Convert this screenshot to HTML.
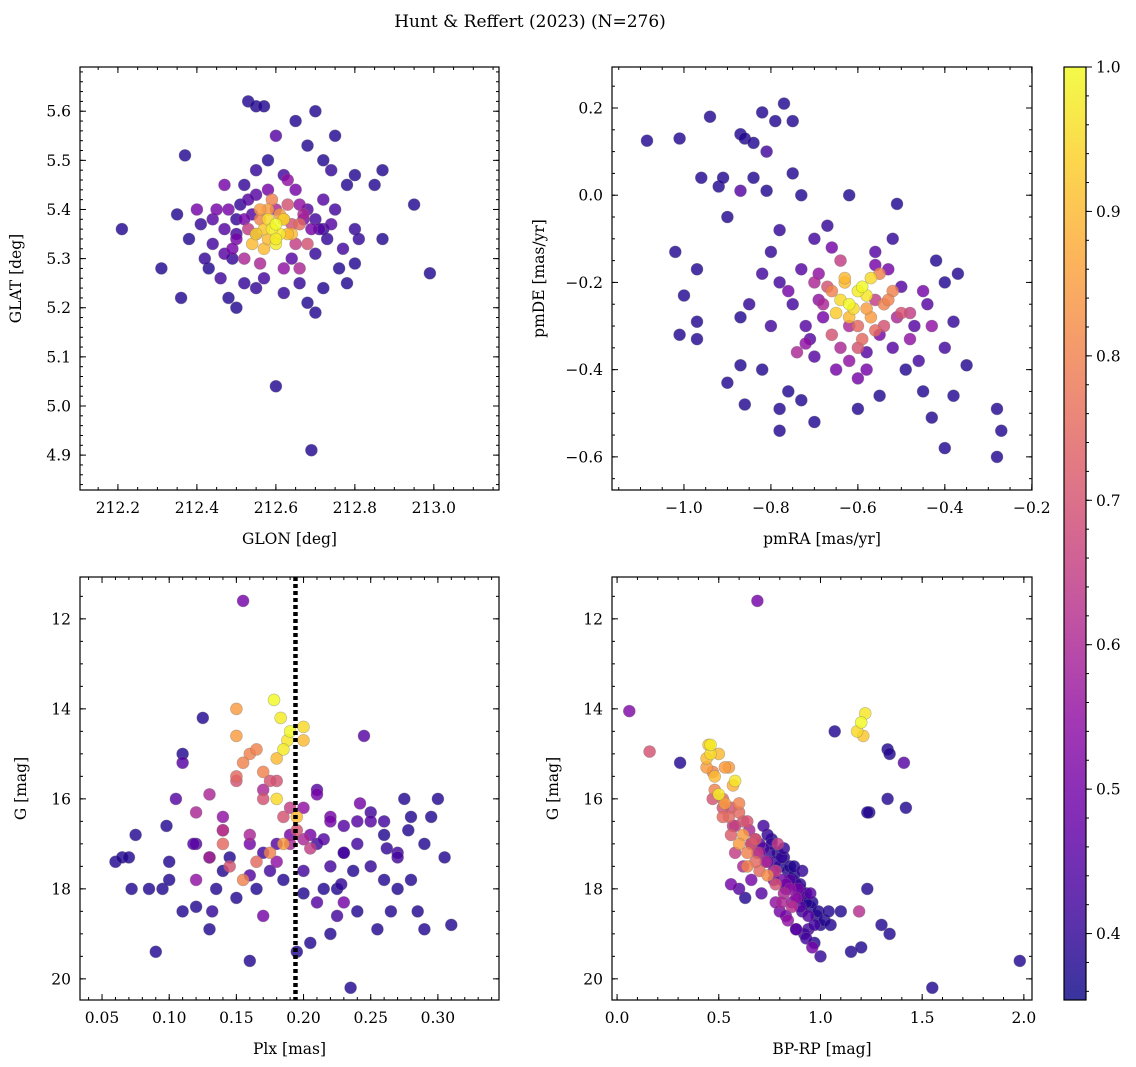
<!DOCTYPE html>
<html><head><meta charset="utf-8"><style>
body{margin:0;background:#fff;}
svg{display:block;font-family:"DejaVu Serif","Liberation Serif",serif;}
</style></head><body>
<svg id="fig" width="1136" height="1067" viewBox="0 0 1136 1067">
<text x="530" y="27" text-anchor="middle" font-size="17">Hunt &amp; Reffert (2023) (N=276)</text>
</svg>
<script>
// ---------- data ----------
const skyGlon=[212.21,212.31,212.36,212.37,212.35,212.38,212.41,212.43,212.44,212.45,212.47,212.48,212.50,212.49,212.50,212.53,212.55,212.57,212.52,212.55,212.58,212.60,212.65,212.68,212.70,212.72,212.75,212.74,212.78,212.80,212.85,212.87,212.95,212.99,212.87,212.80,212.80,212.78,212.76,212.72,212.68,212.70,212.66,212.62,212.60,212.69,212.55,212.52,212.57,212.64,212.70,212.73,212.75,212.72,212.68,212.65,212.62,212.55,212.52,212.50,212.46,212.42,212.44,212.40,212.47,212.53,212.58,212.63,212.67,212.71,212.77,212.81,212.49,212.56,212.66,212.74,212.60,212.55,212.65,212.62,212.48,212.68,212.52,212.58,212.62,212.56,212.66,212.60,212.64,212.54,212.57,212.63,212.60,212.59,212.61,212.58,212.62,212.55,212.60,212.57,212.51,212.54,212.59,212.63,212.67,212.69,212.56,212.53,212.61,212.64,212.70,212.58,212.66,212.50,212.47,212.72];
const skyGlat=[5.36,5.28,5.22,5.51,5.39,5.34,5.37,5.28,5.33,5.40,5.36,5.22,5.20,5.30,5.35,5.62,5.61,5.61,5.45,5.48,5.50,5.55,5.58,5.53,5.60,5.50,5.55,5.48,5.45,5.47,5.45,5.48,5.41,5.27,5.34,5.36,5.29,5.25,5.28,5.24,5.21,5.19,5.25,5.23,5.04,4.91,5.24,5.25,5.26,5.30,5.31,5.34,5.40,5.42,5.40,5.44,5.47,5.43,5.38,5.34,5.26,5.30,5.38,5.40,5.45,5.42,5.44,5.46,5.38,5.36,5.32,5.34,5.32,5.29,5.28,5.37,5.40,5.35,5.33,5.28,5.40,5.33,5.30,5.40,5.38,5.38,5.37,5.33,5.35,5.33,5.32,5.35,5.37,5.36,5.35,5.38,5.38,5.35,5.34,5.36,5.41,5.39,5.42,5.41,5.39,5.36,5.40,5.36,5.39,5.37,5.38,5.34,5.41,5.38,5.31,5.36];
const skyProb=[0.38,0.38,0.38,0.38,0.38,0.38,0.4,0.38,0.42,0.5,0.45,0.38,0.38,0.4,0.42,0.38,0.38,0.38,0.4,0.4,0.38,0.45,0.38,0.38,0.38,0.38,0.38,0.4,0.38,0.38,0.38,0.38,0.38,0.38,0.38,0.4,0.38,0.38,0.38,0.38,0.38,0.38,0.4,0.4,0.38,0.38,0.4,0.4,0.42,0.45,0.4,0.4,0.42,0.45,0.45,0.5,0.42,0.45,0.5,0.5,0.42,0.4,0.45,0.5,0.5,0.45,0.5,0.55,0.5,0.45,0.42,0.4,0.5,0.6,0.6,0.45,0.6,0.6,0.65,0.55,0.5,0.7,0.6,0.85,0.75,0.8,0.75,0.98,0.9,0.9,0.9,0.9,1.0,0.98,0.97,0.95,0.95,0.95,0.98,0.92,0.4,0.45,0.8,0.7,0.6,0.5,0.85,0.65,0.85,0.7,0.42,0.9,0.55,0.4,0.45,0.4];

const pmRA=[-1.085,-1.01,-0.94,-0.96,-0.92,-0.91,-0.87,-0.86,-0.84,-0.82,-0.81,-0.79,-0.77,-0.75,-0.84,-0.87,-0.90,-0.81,-0.75,-0.73,-0.62,-0.51,-1.02,-1.00,-0.97,-1.01,-0.97,-0.97,-0.90,-0.87,-0.86,-0.87,-0.82,-0.78,-0.78,-0.76,-0.70,-0.73,-0.60,-0.55,-0.49,-0.45,-0.43,-0.40,-0.38,-0.28,-0.27,-0.28,-0.35,-0.38,-0.37,-0.40,-0.42,-0.40,-0.44,-0.47,-0.50,-0.52,-0.56,-0.58,-0.65,-0.70,-0.72,-0.75,-0.78,-0.80,-0.78,-0.70,-0.67,-0.73,-0.68,-0.55,-0.52,-0.46,-0.85,-0.80,-0.60,-0.62,-0.58,-0.82,-0.76,-0.74,-0.45,-0.43,-0.48,-0.53,-0.66,-0.69,-0.64,-0.56,-0.50,-0.54,-0.72,-0.66,-0.68,-0.55,-0.57,-0.60,-0.52,-0.70,-0.58,-0.64,-0.56,-0.60,-0.54,-0.66,-0.62,-0.61,-0.63,-0.60,-0.64,-0.59,-0.62,-0.58,-0.65,-0.57,-0.67,-0.53,-0.59,-0.69,-0.51,-0.63,-0.71,-0.48,-0.62,-0.56];
const pmDE=[0.125,0.13,0.18,0.04,0.02,0.04,0.14,0.13,0.12,0.19,0.10,0.17,0.21,0.17,0.04,0.01,-0.05,0.01,0.05,0.00,0.00,-0.02,-0.13,-0.23,-0.17,-0.32,-0.29,-0.33,-0.43,-0.39,-0.48,-0.28,-0.40,-0.49,-0.54,-0.45,-0.52,-0.47,-0.49,-0.46,-0.40,-0.45,-0.51,-0.58,-0.46,-0.49,-0.54,-0.60,-0.39,-0.29,-0.18,-0.20,-0.15,-0.35,-0.25,-0.30,-0.21,-0.10,-0.13,-0.36,-0.40,-0.37,-0.30,-0.25,-0.20,-0.13,-0.08,-0.10,-0.07,-0.17,-0.28,-0.32,-0.35,-0.38,-0.25,-0.30,-0.42,-0.38,-0.40,-0.18,-0.22,-0.36,-0.22,-0.30,-0.33,-0.17,-0.12,-0.18,-0.35,-0.24,-0.27,-0.30,-0.34,-0.32,-0.25,-0.18,-0.28,-0.30,-0.22,-0.20,-0.26,-0.15,-0.31,-0.35,-0.25,-0.22,-0.28,-0.26,-0.20,-0.22,-0.24,-0.21,-0.25,-0.23,-0.27,-0.19,-0.21,-0.24,-0.33,-0.24,-0.28,-0.19,-0.33,-0.27,-0.30,-0.16];
const pmProb=[0.38,0.38,0.38,0.38,0.38,0.38,0.38,0.38,0.38,0.38,0.42,0.38,0.38,0.38,0.38,0.45,0.38,0.38,0.38,0.38,0.38,0.38,0.38,0.38,0.38,0.38,0.38,0.38,0.38,0.38,0.38,0.38,0.38,0.38,0.38,0.38,0.38,0.38,0.38,0.38,0.38,0.38,0.38,0.38,0.38,0.38,0.38,0.38,0.38,0.4,0.38,0.38,0.38,0.42,0.45,0.45,0.45,0.4,0.45,0.45,0.5,0.45,0.45,0.42,0.42,0.4,0.4,0.42,0.4,0.45,0.5,0.5,0.45,0.42,0.4,0.42,0.5,0.55,0.5,0.42,0.5,0.6,0.5,0.55,0.55,0.5,0.5,0.55,0.6,0.65,0.7,0.7,0.55,0.7,0.6,0.8,0.85,0.75,0.8,0.6,0.85,0.65,0.75,0.7,0.8,0.8,0.9,0.95,0.9,0.98,0.95,1.0,1.0,0.97,0.93,0.95,0.7,0.8,0.75,0.55,0.6,0.9,0.45,0.65,0.6,0.5];

const plx=[0.06,0.065,0.07,0.072,0.075,0.085,0.09,0.095,0.10,0.10,0.105,0.11,0.11,0.12,0.12,0.125,0.13,0.13,0.135,0.14,0.14,0.145,0.15,0.155,0.16,0.16,0.165,0.17,0.17,0.175,0.18,0.185,0.19,0.195,0.20,0.20,0.205,0.21,0.21,0.215,0.22,0.22,0.225,0.23,0.23,0.235,0.24,0.24,0.245,0.25,0.25,0.255,0.26,0.26,0.265,0.27,0.27,0.275,0.28,0.28,0.285,0.29,0.29,0.295,0.30,0.305,0.31,0.237,0.16,0.14,0.12,0.11,0.13,0.15,0.17,0.18,0.19,0.20,0.21,0.22,0.23,0.24,0.25,0.26,0.27,0.18,0.2,0.22,0.16,0.17,0.19,0.21,0.23,0.15,0.14,0.13,0.12,0.145,0.155,0.165,0.175,0.185,0.195,0.205,0.15,0.15,0.16,0.17,0.18,0.18,0.185,0.19,0.2,0.2,0.14,0.155,0.165,0.175,0.195,0.185,0.178,0.183,0.188,0.215,0.228,0.242,0.262,0.278,0.118,0.098,0.132,0.205,0.225];
const plxG=[17.4,17.3,17.3,18.0,16.8,18.0,19.4,18.0,17.4,17.8,16.0,18.5,15.0,17.0,18.4,14.2,17.3,18.9,18.0,16.7,17.6,17.3,18.2,11.6,19.6,17.0,18.0,17.2,18.6,17.6,17.0,17.8,16.8,19.4,18.1,17.6,16.8,18.3,17.0,18.0,17.5,19.0,18.0,17.2,18.3,20.2,17.0,18.5,14.6,17.5,16.5,18.9,17.8,16.8,18.5,17.2,18.0,16.0,17.8,16.4,18.5,17.0,18.9,16.4,16.0,17.3,18.8,17.6,17.7,16.4,16.3,15.2,15.9,15.6,15.8,15.6,16.2,16.9,15.9,16.4,16.6,16.5,16.3,16.5,17.3,17.4,16.2,16.5,16.8,16.0,17.0,15.8,17.2,15.5,16.7,17.3,17.8,17.5,17.8,17.4,17.2,17.0,16.7,17.1,14.0,14.6,15.0,15.4,16.0,15.1,14.9,14.5,14.4,14.7,17.0,15.2,14.9,15.6,16.4,16.4,13.8,14.2,14.7,16.9,17.9,16.1,17.1,16.7,17.0,16.6,18.5,19.2,18.6];
const plxProb=[0.38,0.38,0.38,0.38,0.38,0.38,0.38,0.38,0.38,0.38,0.45,0.38,0.38,0.45,0.38,0.38,0.4,0.38,0.38,0.5,0.38,0.38,0.38,0.5,0.38,0.5,0.38,0.42,0.5,0.42,0.45,0.38,0.5,0.38,0.38,0.42,0.5,0.45,0.42,0.38,0.42,0.38,0.38,0.42,0.5,0.38,0.42,0.38,0.45,0.4,0.45,0.38,0.38,0.38,0.38,0.42,0.38,0.38,0.38,0.38,0.38,0.38,0.38,0.38,0.38,0.38,0.38,0.38,0.45,0.55,0.6,0.45,0.6,0.7,0.6,0.7,0.65,0.6,0.5,0.5,0.45,0.45,0.42,0.42,0.42,0.55,0.55,0.5,0.6,0.7,0.6,0.45,0.42,0.75,0.65,0.6,0.55,0.7,0.8,0.75,0.8,0.85,0.7,0.65,0.85,0.85,0.8,0.8,0.95,0.9,0.98,1.0,0.95,0.9,0.75,0.8,0.8,0.7,0.9,0.7,1.0,0.98,0.97,0.45,0.4,0.5,0.4,0.38,0.45,0.38,0.4,0.38,0.42];

const bprp=[0.06,0.16,0.31,0.69,1.07,1.33,1.34,1.41,1.42,1.24,1.23,1.19,1.20,1.22,1.18,1.21,0.46,0.50,0.55,0.58,0.48,0.52,0.56,0.44,0.47,0.53,0.60,0.62,0.57,0.65,0.68,0.70,0.72,0.75,0.78,0.80,0.84,0.86,0.88,0.90,0.92,0.95,0.98,1.00,0.72,0.74,0.76,0.79,0.82,0.85,0.87,0.90,0.93,0.96,0.99,1.02,0.66,0.69,0.73,0.77,0.81,0.83,0.89,0.91,0.94,0.97,1.05,1.10,1.15,1.20,1.30,1.34,1.23,1.33,1.55,1.98,0.56,0.60,0.63,0.80,0.84,0.88,0.92,0.96,1.00,1.04,0.64,0.70,0.74,0.78,0.82,0.86,0.52,0.55,0.58,0.62,0.66,0.70,0.74,0.78,0.83,0.88,0.94,0.60,0.64,0.68,0.85,0.90,0.79,0.77,0.81,0.86,0.50,0.48,0.46,0.53,0.57,0.60,0.64,0.68,0.45,0.44,0.47,0.52,0.56,0.58,0.62,0.66,0.71,0.78,0.83,0.88,0.93,0.76,0.81,0.85,0.89,0.93,0.97,0.82,0.87,0.91,0.95];
const cmdG=[14.05,14.95,15.2,11.6,14.5,14.9,15.0,15.2,16.2,16.3,18.0,18.5,14.3,14.1,14.5,14.6,14.8,15.0,15.3,15.6,15.8,16.0,16.2,15.1,15.4,16.1,16.3,16.5,16.6,16.7,16.9,17.0,17.1,17.2,17.4,17.5,17.6,17.8,17.9,18.0,18.2,18.4,18.6,18.8,16.6,16.8,17.0,17.2,17.3,17.5,17.7,17.9,18.1,18.3,18.5,18.7,17.0,17.2,17.4,17.6,17.8,18.0,18.2,18.5,18.9,19.2,18.8,18.5,19.4,19.3,18.8,19.0,16.3,16.0,20.2,19.6,17.9,18.0,18.2,18.5,18.7,18.9,19.0,19.3,19.5,18.5,17.5,17.6,17.7,17.9,18.1,18.3,16.2,16.4,16.6,16.8,17.0,17.2,17.4,17.6,17.9,18.2,18.6,17.0,17.2,17.4,18.0,18.4,17.0,17.8,18.3,18.4,15.9,15.5,15.0,15.3,15.7,16.1,16.5,16.9,14.8,15.3,16.0,16.4,16.8,17.2,17.5,17.8,18.1,18.3,18.6,18.9,19.1,16.9,17.3,17.8,18.0,18.3,18.8,17.1,17.5,17.6,18.1];
const cmdProb=[0.52,0.7,0.38,0.5,0.38,0.38,0.38,0.45,0.38,0.38,0.38,0.62,1.0,0.97,0.95,0.92,0.98,0.9,0.85,0.97,0.8,0.75,0.7,0.9,0.8,0.85,0.75,0.7,0.65,0.6,0.5,0.45,0.42,0.4,0.4,0.38,0.38,0.38,0.38,0.38,0.38,0.38,0.38,0.38,0.42,0.4,0.4,0.38,0.38,0.38,0.38,0.4,0.42,0.38,0.38,0.38,0.7,0.65,0.6,0.5,0.5,0.45,0.45,0.42,0.42,0.38,0.38,0.38,0.38,0.38,0.38,0.38,0.38,0.38,0.38,0.38,0.5,0.45,0.38,0.5,0.55,0.45,0.42,0.5,0.4,0.38,0.8,0.75,0.82,0.7,0.6,0.55,0.7,0.75,0.65,0.85,0.6,0.55,0.5,0.65,0.5,0.55,0.45,0.85,0.8,0.75,0.55,0.45,0.65,0.5,0.6,0.62,0.98,0.9,0.95,0.85,0.88,0.8,0.7,0.72,0.92,0.85,0.7,0.75,0.72,0.65,0.6,0.5,0.45,0.55,0.5,0.45,0.42,0.38,0.4,0.45,0.5,0.38,0.42,0.4,0.38,0.4,0.45];

const cbTicks=[0.4,0.5,0.6,0.7,0.8,0.9,1.0];
const VMIN=0.354, VMAX=1.0;

// ---------- helpers ----------
const NS='http://www.w3.org/2000/svg';
const fig=document.getElementById('fig');
function mk(tag,attrs,parent){const e=document.createElementNS(NS,tag);for(const k in attrs)e.setAttribute(k,attrs[k]);(parent||fig).appendChild(e);return e;}
const stops=['#0d0887','#41049d','#6a00a8','#8f0da4','#b12a90','#cc4778','#e16462','#f2844b','#fca636','#fcce25','#f0f921'];
function hex(h){return [1,3,5].map(i=>parseInt(h.substr(i,2),16));}
function cmap(v){let t=(v-VMIN)/(VMAX-VMIN);t=Math.max(0,Math.min(1,t));const s=t*10,i=Math.min(9,Math.floor(s)),f=s-i;const a=hex(stops[i]),b=hex(stops[i+1]);return 'rgb('+a.map((c,k)=>Math.round(c+(b[k]-c)*f)).join(',')+')';}
function fmt(v,d){const s=Math.abs(v).toFixed(d);return (v<-1e-9?'\u2212':'')+s;}

function panel(o){
  const g=mk('g',{});
  
  
  const X=v=>o.x0+(v-o.xmin)/(o.xmax-o.xmin)*(o.x1-o.x0);
  const Y=o.invert?(v=>o.y0+(v-o.ymin)/(o.ymax-o.ymin)*(o.y1-o.y0)):(v=>o.y1-(v-o.ymin)/(o.ymax-o.ymin)*(o.y1-o.y0));
  const pts=mk('g',{},g);
  
  
  const order=o.xs.map((_,i)=>i).sort((a,b)=>o.ps[a]-o.ps[b]);
  for(const i of order){
    const c=mk('circle',{cx:X(o.xs[i]).toFixed(1),cy:Y(o.ys[i]).toFixed(1),r:6,fill:cmap(o.ps[i]),'fill-opacity':0.82,stroke:'#777','stroke-opacity':0.5,'stroke-width':0.6},pts);
    
    
  }
  if(o.vline!==undefined){
    const l=mk('line',{x1:X(o.vline),x2:X(o.vline),y1:o.y0,y2:o.y1,stroke:'#000','stroke-width':4.5,'stroke-dasharray':'4 3'},g);
    
    
  }
  const fr=mk('rect',{x:o.x0,y:o.y0,width:o.x1-o.x0,height:o.y1-o.y0,fill:'none',stroke:'#000','stroke-width':1.2},g);
  
  
  const eps=1e-9;
  for(let v=Math.ceil(o.xmin/o.xmin_step-eps)*o.xmin_step;v<=o.xmax+eps;v+=o.xmin_step){const x=X(v);mk('line',{x1:x,x2:x,y1:o.y1,y2:o.y1-3,stroke:'#000'},g);mk('line',{x1:x,x2:x,y1:o.y0,y2:o.y0+3,stroke:'#000'},g);}
  for(let v=Math.ceil(o.ymin/o.ymin_step-eps)*o.ymin_step;v<=o.ymax+eps;v+=o.ymin_step){const y=Y(v);mk('line',{x1:o.x0,x2:o.x0+3,y1:y,y2:y,stroke:'#000'},g);mk('line',{x1:o.x1,x2:o.x1-3,y1:y,y2:y,stroke:'#000'},g);}
  for(const v of o.xt){const x=X(v);mk('line',{x1:x,x2:x,y1:o.y1,y2:o.y1-6,stroke:'#000'},g);mk('line',{x1:x,x2:x,y1:o.y0,y2:o.y0+6,stroke:'#000'},g);
    const t=mk('text',{x:x,y:o.y1+23,'text-anchor':'middle','font-size':15.5},g);t.textContent=fmt(v,o.xd);
    
    }
  for(const v of o.yt){const y=Y(v);mk('line',{x1:o.x0,x2:o.x0+6,y1:y,y2:y,stroke:'#000'},g);mk('line',{x1:o.x1,x2:o.x1-6,y1:y,y2:y,stroke:'#000'},g);
    const t=mk('text',{x:o.x0-9,y:y+5.5,'text-anchor':'end','font-size':15.5},g);t.textContent=fmt(v,o.yd);
    
    }
  const xl=mk('text',{x:(o.x0+o.x1)/2,y:o.y1+54,'text-anchor':'middle','font-size':15.5},g);xl.textContent=o.xlabel;
  
  
  const yx=o.x0-o.ylpad, yy=(o.y0+o.y1)/2;
  const yl=mk('text',{x:yx,y:yy,'text-anchor':'middle','font-size':15.5,transform:`rotate(-90 ${yx} ${yy})`},g);yl.textContent=o.ylabel;
  
  
}
const r=(a,b,s)=>{const o=[];for(let v=a;v<=b+1e-9;v+=s)o.push(+v.toFixed(4));return o;};

panel({name:'sky-panel',x0:80,x1:499,y0:67,y1:490,xmin:212.104,xmax:213.165,ymin:4.829,ymax:5.69,xs:skyGlon,ys:skyGlat,ps:skyProb,
  xt:r(212.2,213.0,0.2),xd:1,yt:r(4.9,5.6,0.1),yd:1,xmin_step:0.05,ymin_step:0.02,xlabel:'GLON [deg]',ylabel:'GLAT [deg]',ylpad:59});
panel({name:'proper-motion-panel',x0:612,x1:1032,y0:67,y1:490,xmin:-1.1655,xmax:-0.1995,ymin:-0.676,ymax:0.294,xs:pmRA,ys:pmDE,ps:pmProb,
  xt:r(-1.0,-0.2,0.2),xd:1,yt:r(-0.6,0.2,0.2),yd:1,xmin_step:0.05,ymin_step:0.05,xlabel:'pmRA [mas/yr]',ylabel:'pmDE [mas/yr]',ylpad:68});
panel({name:'parallax-panel',x0:80,x1:499,y0:577,y1:1000,xmin:0.0336,xmax:0.3455,ymin:11.07,ymax:20.47,invert:true,xs:plx,ys:plxG,ps:plxProb,vline:0.194,
  xt:r(0.05,0.30,0.05),xd:2,yt:r(12,20,2),yd:0,xmin_step:0.01,ymin_step:0.5,xlabel:'Plx [mas]',ylabel:'G [mag]',ylpad:54});
panel({name:'cmd-panel',x0:612,x1:1032,y0:577,y1:1000,xmin:-0.025,xmax:2.04,ymin:11.07,ymax:20.47,invert:true,xs:bprp,ys:cmdG,ps:cmdProb,
  xt:r(0,2,0.5),xd:1,yt:r(12,20,2),yd:0,xmin_step:0.1,ymin_step:0.5,xlabel:'BP-RP [mag]',ylabel:'G [mag]',ylpad:54});

// colorbar
const cb=mk('g',{});


const defs=mk('defs',{},cb);
const lg=mk('linearGradient',{id:'cbg',x1:0,y1:1,x2:0,y2:0},defs);
for(let i=0;i<=20;i++){const v=VMIN+(VMAX-VMIN)*i/20;mk('stop',{offset:i/20,'stop-color':cmap(v),'stop-opacity':0.82},lg);}
const cbx0=1064,cbx1=1086,cby0=67,cby1=1000;
mk('rect',{x:cbx0,y:cby0,width:cbx1-cbx0,height:cby1-cby0,fill:'url(#cbg)',stroke:'#000','stroke-width':1.2},cb);
const CY=v=>cby1-(v-VMIN)/(VMAX-VMIN)*(cby1-cby0);
for(let v=0.36;v<=1.0001;v+=0.02){const y=CY(v);mk('line',{x1:cbx1,x2:cbx1+3,y1:y,y2:y,stroke:'#000'},cb);}
for(const v of cbTicks){const y=CY(v);mk('line',{x1:cbx1,x2:cbx1+6,y1:y,y2:y,stroke:'#000'},cb);
  const t=mk('text',{x:cbx1+10,y:y+5.5,'font-size':15.5},cb);t.textContent=v.toFixed(1);
  
  }
</script>
</body></html>
